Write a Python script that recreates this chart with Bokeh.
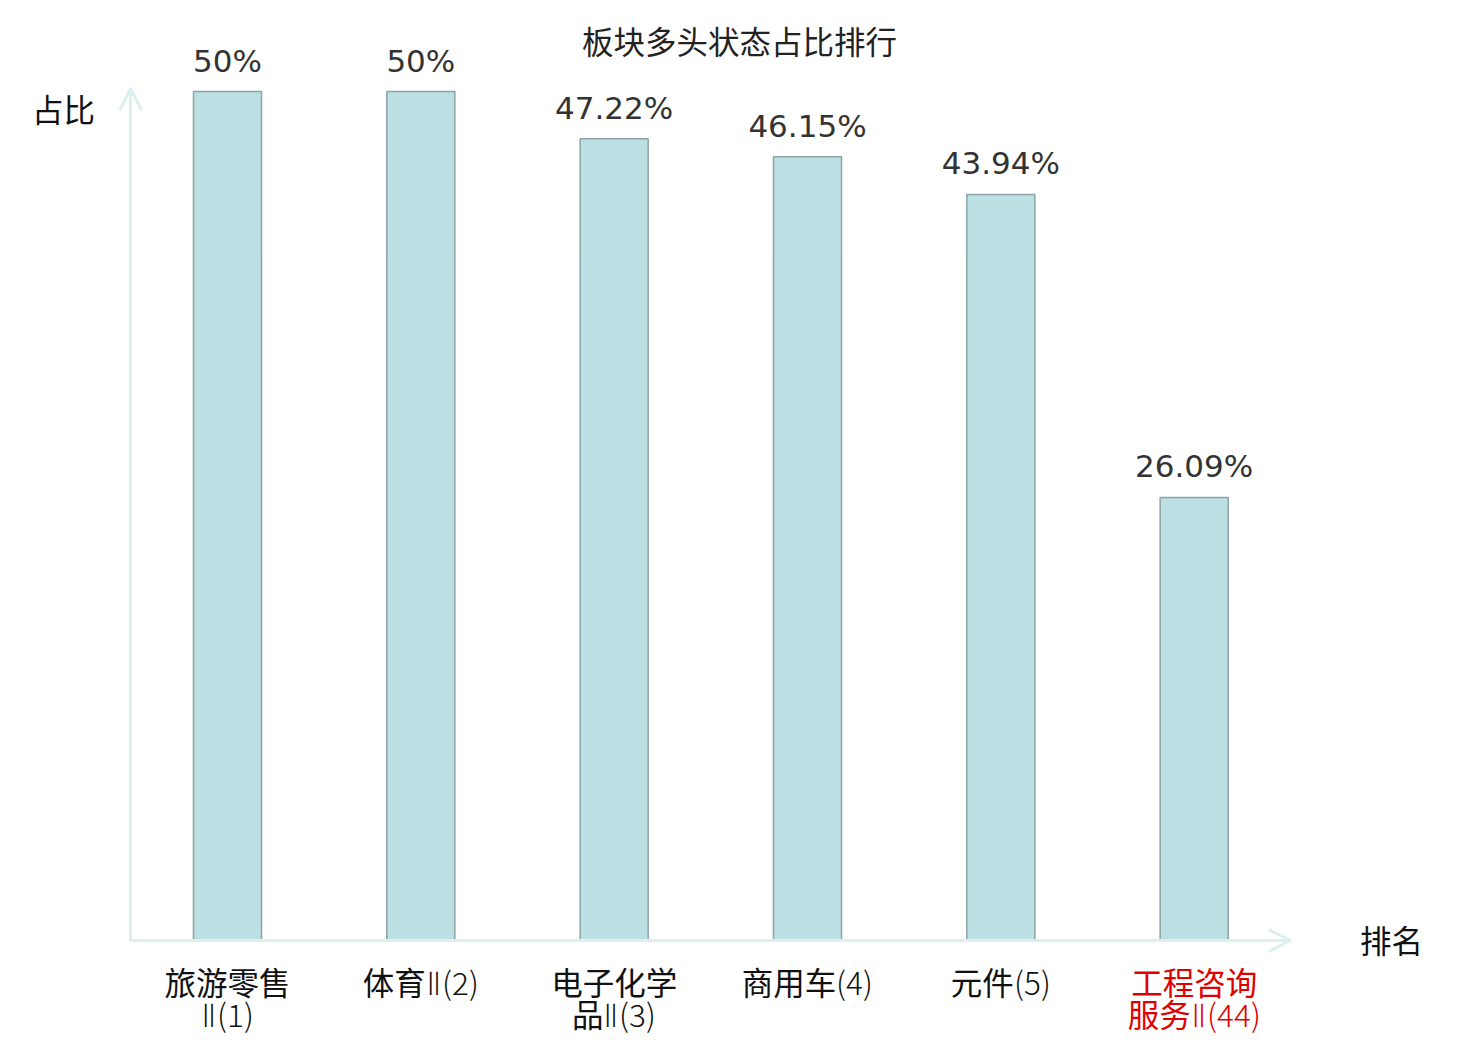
from bokeh.plotting import figure
from bokeh.models import ColumnDataSource, Range1d, Arrow, OpenHead
from bokeh.core.properties import value
from bokeh.embed import file_html
from bokeh.resources import INLINE

# ---- data ----
categories = ["旅游零售\nⅡ(1)", "体育Ⅱ(2)", "电子化学\n品Ⅱ(3)", "商用车(4)", "元件(5)", "工程咨询\n服务Ⅱ(44)"]
values = [50.0, 50.0, 47.22, 46.15, 43.94, 26.09]
value_labels = ["50%", "50%", "47.22%", "46.15%", "43.94%", "26.09%"]
label_colors = ["#111111", "#111111", "#111111", "#111111", "#111111", "#e00000"]
title_text = "板块多头状态占比排行"
y_title = "占比"
x_title = "排名"

# ---- layout (picture pixels -> data) ----
W, H = 1480, 1040
X0, XSTEP = 227.0, 193.33      # px of first category center, spacing
Y0, YK = 940.0, 16.98          # px of value 0, px per unit

def dx(px):
    return (px - X0) / XSTEP

def dy(py):
    return (Y0 - py) / YK

p = figure(width=W, height=H, output_backend="svg", toolbar_location=None,
           x_range=Range1d(dx(0), dx(W)), y_range=Range1d(dy(H), dy(0)),
           min_border=0, min_border_left=0, min_border_right=0,
           min_border_top=0, min_border_bottom=0)
p.axis.visible = False
p.grid.visible = False
p.outline_line_color = None
p.background_fill_color = "white"
p.border_fill_color = "white"

n = len(values)
xs = list(range(n))
src = ColumnDataSource(dict(x=xs, top=values, lab=value_labels,
                            ly=[v + 31 / YK for v in values]))

p.vbar(x="x", top="top", bottom=0, width=68 / XSTEP, source=src,
       fill_color="#bce0e3", line_color="#8aa4a6", line_width=1.5)

# value labels
p.text(x="x", y="ly", text="lab", source=src, text_align="center", text_baseline="middle",
       text_font=value("DejaVu Sans"), text_font_size="31px", text_color="#333333")

# axes arrows
axis_col = "#dcf1ee"
p.add_layout(Arrow(end=OpenHead(size=22, line_color=axis_col, line_width=3),
                   x_start=dx(130), y_start=dy(941), x_end=dx(130), y_end=dy(88),
                   line_color=axis_col, line_width=3))
p.add_layout(Arrow(end=OpenHead(size=22, line_color=axis_col, line_width=3),
                   x_start=dx(129), y_start=dy(940), x_end=dx(1290), y_end=dy(940),
                   line_color=axis_col, line_width=3))

# category labels (split lines)
l1x, l1y, l1t, l1c, l2x, l2y, l2t, l2c = [], [], [], [], [], [], [], []
for i, c in enumerate(categories):
    parts = c.split("\n")
    l1x.append(i); l1y.append(dy(980)); l1t.append(parts[0]); l1c.append(label_colors[i])
    if len(parts) > 1:
        l2x.append(i); l2y.append(dy(1012)); l2t.append(parts[1]); l2c.append(label_colors[i])
cat_font = value("'CatLatin', 'CatRoman', 'CatRoman2', 'Noto Sans CJK SC'")
cjk_font = value("Noto Sans CJK SC")
p.text(x=l1x, y=l1y, text=l1t, text_color=l1c, text_align="center", text_baseline="middle",
       text_font=cat_font, text_font_size="31.5px")
p.text(x=l2x, y=l2y, text=l2t, text_color=l2c, text_align="center", text_baseline="middle",
       text_font=cat_font, text_font_size="31.5px")

# titles
p.text(x=[dx(739)], y=[dy(39)], text=[title_text], text_align="center", text_baseline="middle",
       text_font=cjk_font, text_font_size="31.5px", text_color="#222222")
p.text(x=[dx(63)], y=[dy(107)], text=[y_title], text_align="center", text_baseline="middle",
       text_font=cjk_font, text_font_size="31.5px", text_color="#111111")
p.text(x=[dx(1391)], y=[dy(938)], text=[x_title], text_align="center", text_baseline="middle",
       text_font=cjk_font, text_font_size="31.5px", text_color="#111111")

font_css = """<style>
@font-face { font-family: 'CatLatin'; src: local('Noto Sans CJK SC Light'), local('NotoSansCJKsc-Light'); unicode-range: U+0020-007E; }
@font-face { font-family: 'CatRoman'; src: local('DejaVu Sans ExtraLight'), local('DejaVuSans-ExtraLight'), local('Noto Sans Light'), local('NotoSans-Light'); unicode-range: U+2160-2188; }
@font-face { font-family: 'CatRoman2'; src: local('DejaVu Sans'), local('DejaVuSans'); unicode-range: U+2160-2188; }
</style>"""
html = file_html(p, INLINE).replace("<head>", "<head>" + font_css, 1)
open("out.html", "w").write(html)
